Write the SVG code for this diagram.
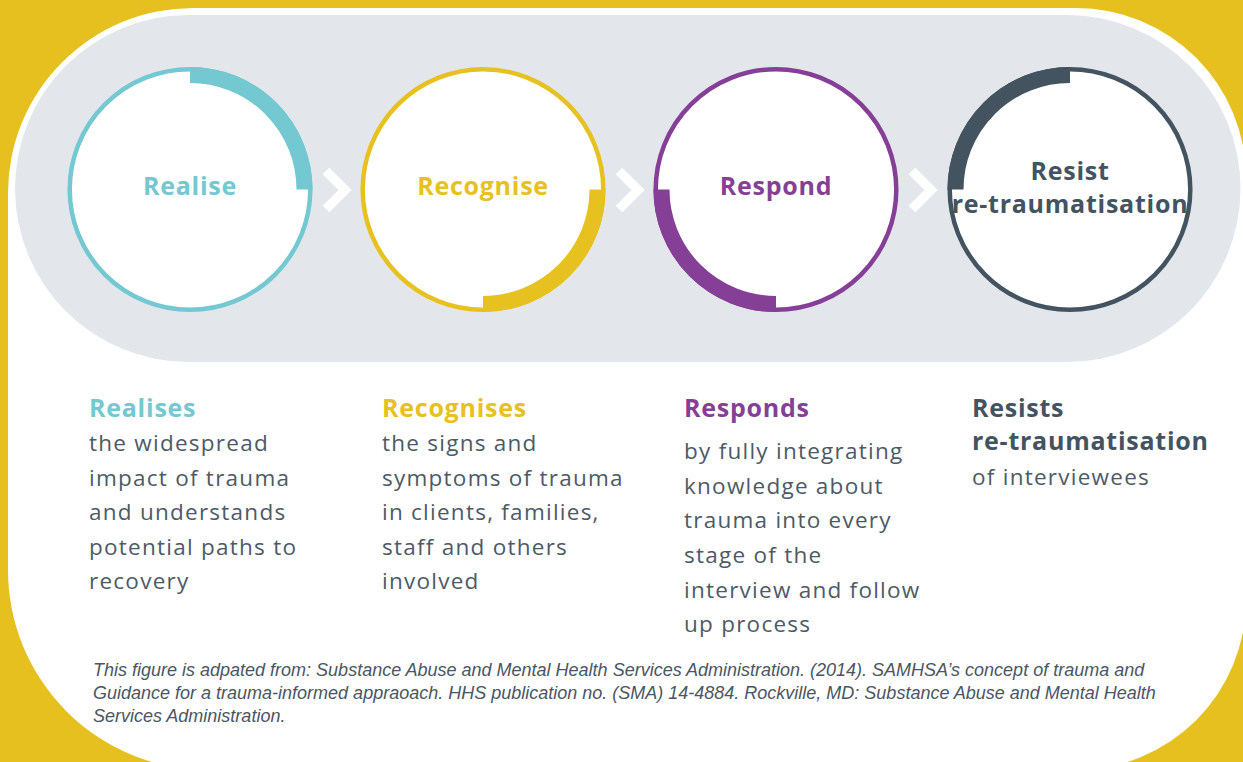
<svg xmlns="http://www.w3.org/2000/svg" width="1243" height="762" viewBox="0 0 1243 762">
  <style>
    .lbl { font-family: "Open Sans", "Liberation Sans", sans-serif; font-weight: 700; font-size: 25px; letter-spacing: 0.75px; text-anchor: middle; }
    .head { font-family: "Open Sans", "Liberation Sans", sans-serif; font-weight: 700; font-size: 25px; letter-spacing: 0.75px; }
    .body { font-family: "Open Sans", "Liberation Sans", sans-serif; font-weight: 400; font-size: 22.5px; letter-spacing: 1.25px; fill: #4d5a66; }
    .note { font-family: "Liberation Sans", Arial, sans-serif; font-style: italic; font-size: 18px; fill: #4a5663; }
    .ring { fill: #ffffff; stroke-width: 4.5; }
    .arc { fill: none; stroke-width: 16; stroke-linecap: butt; }
    .chev { fill: none; stroke: #ffffff; stroke-width: 9.5; stroke-linejoin: miter; stroke-linecap: butt; }
    .teal { stroke: #73c8d1; }
    .gold { stroke: #e6c11f; }
    .plum { stroke: #853f96; }
    .slate { stroke: #43535f; }
  </style>

  <!-- backdrop: yellow field, white card, grey band -->
  <rect x="0" y="0" width="1243" height="762" fill="#e5c01e"/>
  <path d="M 193 8 H 1076 A 170 170 0 0 1 1246 178 V 600 A 170 170 0 0 1 1076 770 H 208 A 200 200 0 0 1 8 570 V 193 A 185 185 0 0 1 193 8 Z" fill="#ffffff"/>
  <rect x="15" y="15" width="1225.5" height="347" rx="173.5" ry="173.5" fill="#e3e7eb"/>

  <!-- step arrows between circles -->
  <g id="connectors">
    <polyline class="chev" points="326,171 345,190 326,209"/>
    <polyline class="chev" points="619,171 638,190 619,209"/>
    <polyline class="chev" points="912,171 931,190 912,209"/>
  </g>

  <g id="realise">
    <circle class="ring teal" cx="190" cy="189.5" r="120.3"/>
    <path class="arc teal" d="M 190 75 A 114.5 114.5 0 0 1 304.5 189.5"/>
    <text class="lbl" x="190" y="195" fill="#73c8d1">Realise</text>
  </g>

  <g id="recognise">
    <circle class="ring gold" cx="483" cy="189.5" r="120.3"/>
    <path class="arc gold" d="M 597.5 189.5 A 114.5 114.5 0 0 1 483 304"/>
    <text class="lbl" x="483" y="195" fill="#e6c11f">Recognise</text>
  </g>

  <g id="respond">
    <circle class="ring plum" cx="776" cy="189.5" r="120.3"/>
    <path class="arc plum" d="M 776 304 A 114.5 114.5 0 0 1 661.5 189.5"/>
    <text class="lbl" x="776" y="195" fill="#853f96">Respond</text>
  </g>

  <g id="resist">
    <circle class="ring slate" cx="1070" cy="189.5" r="120.3"/>
    <path class="arc slate" d="M 955.5 189.5 A 114.5 114.5 0 0 1 1070 75"/>
    <text class="lbl" x="1070" y="180" fill="#43535f">Resist</text>
    <text class="lbl" x="1070" y="213" fill="#43535f">re-traumatisation</text>
  </g>

  <!-- descriptions under each step -->
  <g id="desc-realise">
    <text class="head" x="89" y="417" fill="#73c8d1">Realises</text>
    <text class="body" x="89" y="451">the widespread</text>
    <text class="body" x="89" y="486">impact of trauma</text>
    <text class="body" x="89" y="520">and understands</text>
    <text class="body" x="89" y="555">potential paths to</text>
    <text class="body" x="89" y="589">recovery</text>
  </g>

  <g id="desc-recognise">
    <text class="head" x="382" y="417" fill="#e6c11f">Recognises</text>
    <text class="body" x="382" y="451">the signs and</text>
    <text class="body" x="382" y="486">symptoms of trauma</text>
    <text class="body" x="382" y="520">in clients, families,</text>
    <text class="body" x="382" y="555">staff and others</text>
    <text class="body" x="382" y="589">involved</text>
  </g>

  <g id="desc-respond">
    <text class="head" x="684" y="417" fill="#853f96">Responds</text>
    <text class="body" x="684" y="459">by fully integrating</text>
    <text class="body" x="684" y="494">knowledge about</text>
    <text class="body" x="684" y="528">trauma into every</text>
    <text class="body" x="684" y="563">stage of the</text>
    <text class="body" x="684" y="598">interview and follow</text>
    <text class="body" x="684" y="632">up process</text>
  </g>

  <g id="desc-resist">
    <text class="head" x="972" y="417" fill="#43535f">Resists</text>
    <text class="head" x="972" y="450" fill="#43535f">re-traumatisation</text>
    <text class="body" x="972" y="485">of interviewees</text>
  </g>

  <!-- source note -->
  <g id="source">
    <text class="note" x="93" y="676">This figure is adpated from: Substance Abuse and Mental Health Services Administration. (2014). SAMHSA’s concept of trauma and</text>
    <text class="note" x="93" y="699">Guidance for a trauma-informed appraoach. HHS publication no. (SMA) 14-4884. Rockville, MD: Substance Abuse and Mental Health</text>
    <text class="note" x="93" y="722">Services Administration.</text>
  </g>
</svg>
